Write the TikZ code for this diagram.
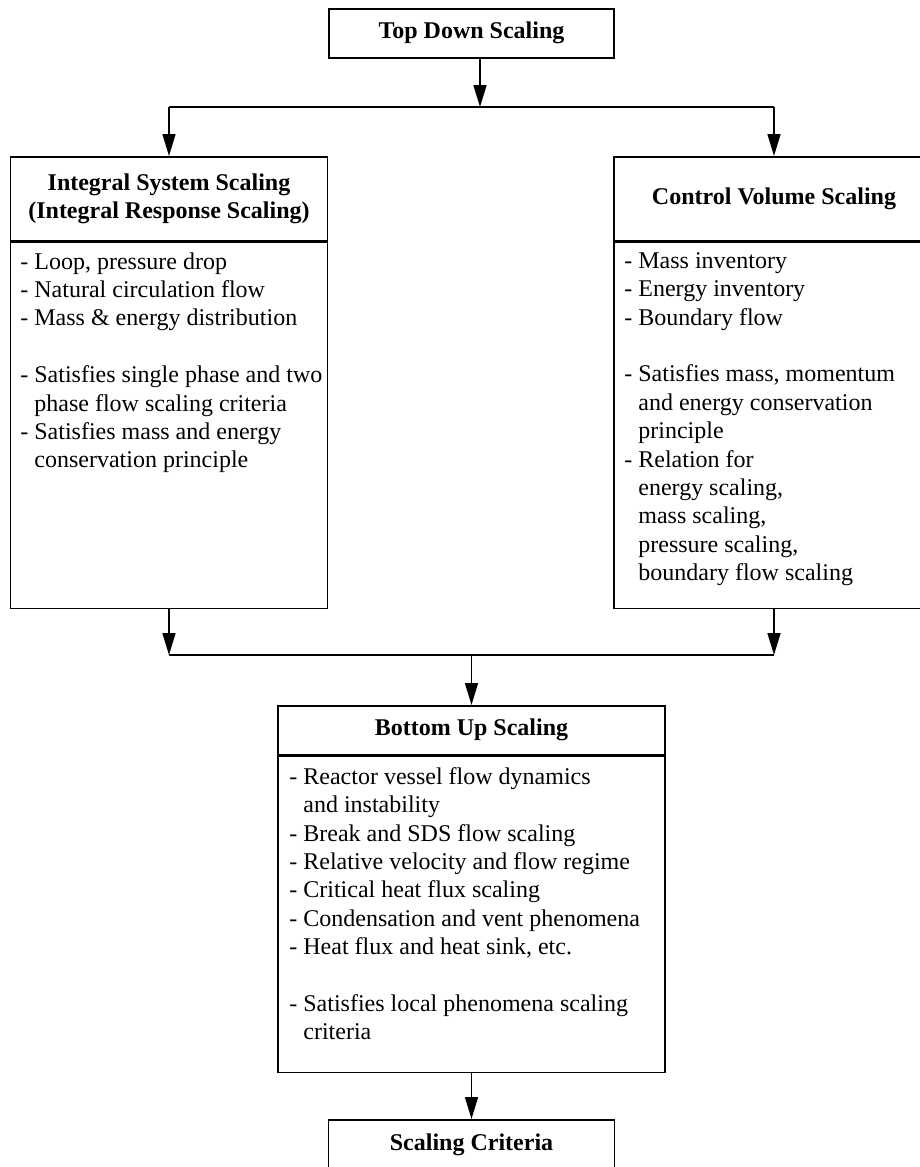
\documentclass[tikz,border=0pt]{standalone}
\usepackage{fontspec}
\setmainfont{Liberation Serif}
\usetikzlibrary{arrows.meta,positioning,calc}

\begin{document}
\begin{tikzpicture}[x=0.5pt, y=-0.5pt,
  font=\fontsize{12}{14.2}\selectfont,
  head/.style={draw, line width=0.8pt, font=\fontsize{12}{14.2}\selectfont\bfseries,
               align=center, inner sep=0pt, anchor=north},
  body/.style={draw, line width=0.8pt, anchor=north, inner sep=0pt},
  txt/.style={anchor=north west, align=left, inner sep=0pt},
  ar/.style={-{Triangle[length=11pt,width=6.5pt]}, line width=0.8pt}]

\useasboundingbox (0,0) rectangle (920,1167);
\clip (0,0) rectangle (920,1167);

\def\ind{\hphantom{- }}

% top
\node[head, minimum width=142.5pt, minimum height=24.5pt] (tds) at (471.5,8) {Top Down Scaling};

% left column
\node[head, minimum width=158.5pt, minimum height=42pt] (isshead) at (169,156)
  {Integral System Scaling\\(Integral Response Scaling)};
\node[body, minimum width=158.5pt, minimum height=183pt] (issbody) at (isshead.south) {};
\node[txt] (isstxt) at (20,252)
  {- Loop, pressure drop\\
   - Natural circulation flow\\
   - Mass \& energy distribution\\[14.2pt]
   - Satisfies single phase and two\\
   \ind phase flow scaling criteria\\
   - Satisfies mass and energy\\
   \ind conservation principle};

% right column
\node[head, minimum width=160pt, minimum height=42pt] (cvshead) at (774,156)
  {Control Volume Scaling};
\node[body, minimum width=160pt, minimum height=183pt] (cvsbody) at (cvshead.south) {};
\node[txt] (cvstxt) at (624,252)
  {- Mass inventory\\
   - Energy inventory\\
   - Boundary flow\\[14.2pt]
   - Satisfies mass, momentum\\
   \ind and energy conservation\\
   \ind principle\\
   - Relation for\\
   \ind energy scaling,\\
   \ind mass scaling,\\
   \ind pressure scaling,\\
   \ind boundary flow scaling};

% bottom up
\node[head, minimum width=193.5pt, minimum height=24.5pt] (buhead) at (471.5,705)
  {Bottom Up Scaling};
\node[body, minimum width=193.5pt, minimum height=158pt] (bubody) at (buhead.south) {};
\node[txt] (butxt) at (289,767)
  {- Reactor vessel flow dynamics\\
   \ind and instability\\
   - Break and SDS flow scaling\\
   - Relative velocity and flow regime\\
   - Critical heat flux scaling\\
   - Condensation and vent phenomena\\
   - Heat flux and heat sink, etc.\\[14.2pt]
   - Satisfies local phenomena scaling\\
   \ind criteria};

\node[head, minimum width=143pt, minimum height=25pt] (sc) at (471.5,1119) {Scaling Criteria};

% connectors
\coordinate (topj) at (480,107);
\coordinate (botj) at (471.5,655);
\draw[ar] (topj |- tds.south) -- (topj);
\draw[line width=0.8pt] (isshead.north |- topj) -- (cvshead.north |- topj);
\draw[ar] (isshead.north |- topj) -- (isshead.north);
\draw[ar] (cvshead.north |- topj) -- (cvshead.north);
\draw[ar] (issbody.south) -- (issbody.south |- botj);
\draw[ar] (cvsbody.south) -- (cvsbody.south |- botj);
\draw[line width=0.8pt] (issbody.south |- botj) -- (cvsbody.south |- botj);
\draw[ar] (botj) -- (buhead.north);
\draw[ar] (bubody.south) -- (sc.north);
\end{tikzpicture}
\end{document}
